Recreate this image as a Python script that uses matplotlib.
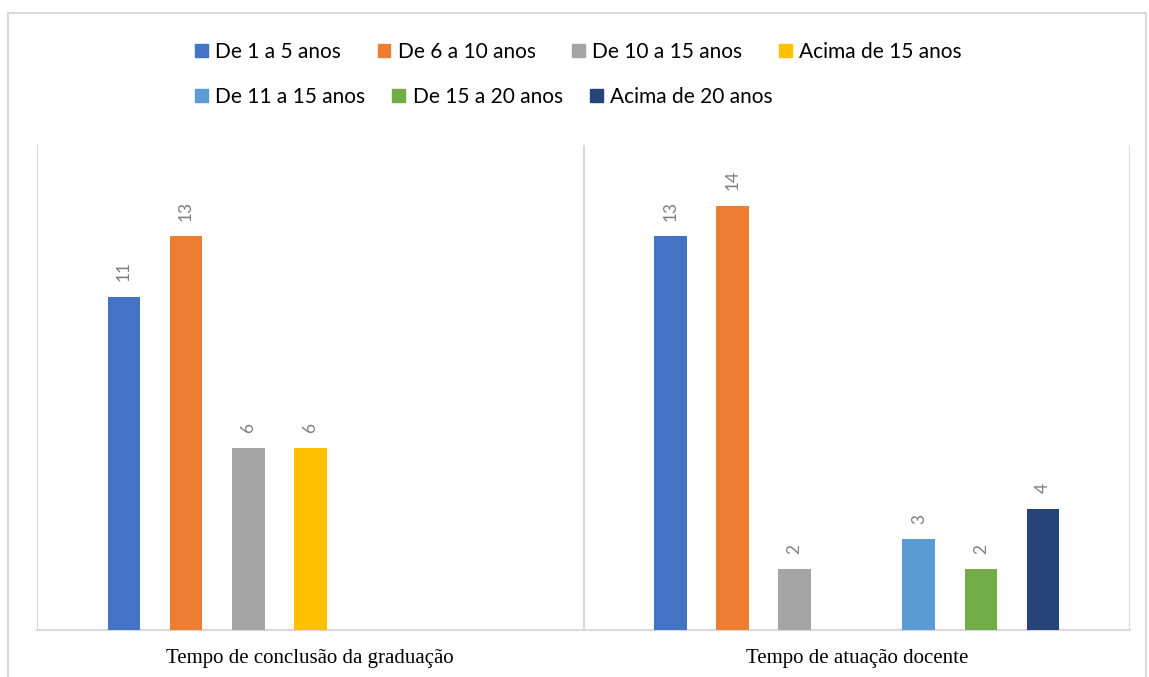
import numpy as np
import matplotlib.pyplot as plt
from matplotlib.patches import Rectangle, Patch

# categories and series (nan = no bar)
categories = ['Tempo de conclusão da graduação', 'Tempo de atuação docente']
series = ['De 1 a 5 anos', 'De 6 a 10 anos', 'De 10 a 15 anos', 'Acima de 15 anos',
          'De 11 a 15 anos', 'De 15 a 20 anos', 'Acima de 20 anos']
values = [
    [11, 13],
    [13, 14],
    [6, 2],
    [6, np.nan],
    [np.nan, 3],
    [np.nan, 2],
    [np.nan, 4],
]
colors = ['#4472C4', '#ED7D31', '#A5A5A5', '#FFC000', '#5B9BD5', '#70AD47', '#264478']

fig = plt.figure(figsize=(11.49, 6.77), dpi=100)
ax = fig.add_axes([37 / 1149, 1 - 630 / 677, (1130 - 37) / 1149, (630 - 145) / 677])

x = np.arange(len(categories))
step = 0.1136
w = 0.06
for i, (name, vals) in enumerate(zip(series, values)):
    pos = x + (i - 3) * step
    bars = ax.bar(pos, vals, width=w, color=colors[i], label=name, zorder=3)
    for b, v in zip(bars, vals):
        if np.isnan(v):
            continue
        ax.annotate(f'{int(v)}', (b.get_x() + b.get_width() / 2, v),
                    xytext=(0, 11), textcoords='offset points',
                    ha='center', va='bottom', rotation=90,
                    fontsize=12.5, color='#7f7f7f', family='Lato')

ax.set_xlim(-0.5, 1.5)
ax.set_ylim(0, 16)
for gx in [-0.5, 0.5, 1.5]:
    ax.axvline(gx, color='#d9d9d9', lw=1.5, zorder=1)
for s in ['top', 'right', 'left']:
    ax.spines[s].set_visible(False)
ax.spines['bottom'].set_color('#d9d9d9')
ax.spines['bottom'].set_linewidth(1.5)
ax.set_yticks([])
ax.set_xticks(x)
ax.set_xticklabels(categories, family='Liberation Serif', fontsize=15)
ax.tick_params(axis='x', length=0, pad=14)

# legend in two rows
handles = [Patch(color=c) for c in colors]
leg_kw = dict(loc='center left', frameon=False,
              prop={'family': 'Lato', 'size': 15}, handlelength=0.62, handleheight=0.62,
              handletextpad=0.35, borderpad=0, borderaxespad=0)
leg1 = fig.legend(handles[:4], series[:4], bbox_to_anchor=(195 / 1149, 1 - 52 / 677),
                  ncol=4, columnspacing=1.75, **leg_kw)
leg2 = fig.legend(handles[4:], series[4:], bbox_to_anchor=(195 / 1149, 1 - 97 / 677),
                  ncol=3, columnspacing=1.3, **leg_kw)

# outer chart frame
fig.patches.append(Rectangle((8 / 1149, -0.05), (1146 - 8) / 1149, 1.05 - 13 / 677,
                             transform=fig.transFigure, fill=False,
                             edgecolor='#d9d9d9', lw=1.5))

fig.savefig('out.png', dpi=100)
